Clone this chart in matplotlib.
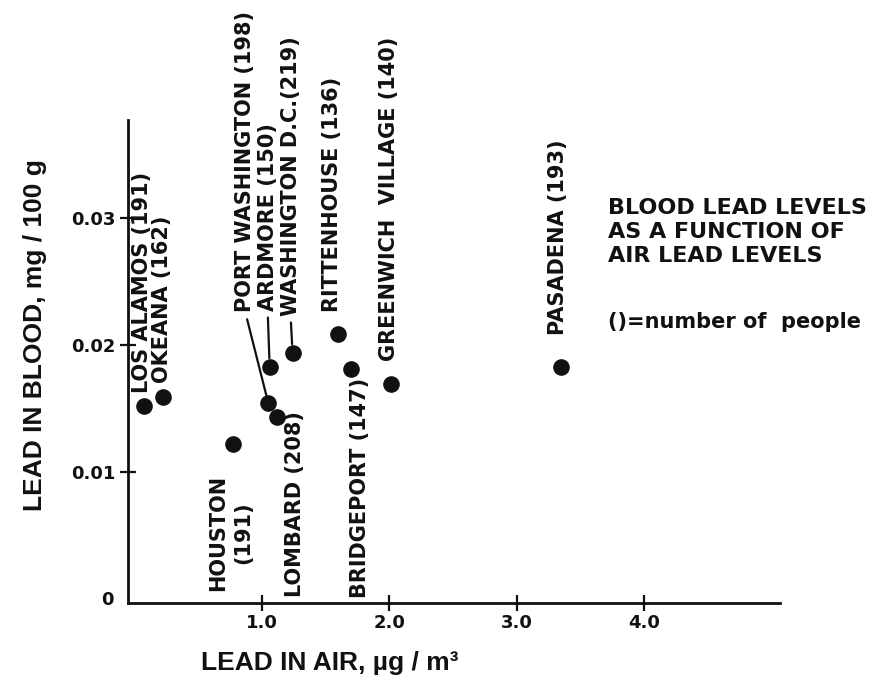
import numpy as np
import matplotlib.pyplot as plt

plt.rcParams['font.family'] = ['DejaVu Sans']
plt.rcParams['font.weight'] = 'bold'

# Données
towns = ['LOS ALAMOS (191)', 'OKEANA (162)', 'HOUSTON\n(191)', 'PORT WASHINGTON (198)',
         'ARDMORE (150)', 'LOMBARD (208)', 'WASHINGTON D.C.(219)', 'RITTENHOUSE (136)',
         'BRIDGEPORT (147)', 'GREENWICH  VILLAGE (140)', 'PASADENA (193)']
lead_air = [0.07, 0.22, 0.77, 1.05, 1.06, 1.12, 1.24, 1.60, 1.70, 2.01, 3.35]       # µg/m3
lead_blood = [0.0152, 0.0159, 0.0122, 0.0154, 0.0183, 0.0143, 0.0194, 0.0209,
              0.0181, 0.0169, 0.0183]                                                # mg/100 g
x_ticks = [1.0, 2.0, 3.0, 4.0]
x_ticklabels = ['1.0', '2.0', '3.0', '4.0']
y_ticks = [0.01, 0.02, 0.03]
y_ticklabels = ['0.01', '0.02', '0.03']

# placement des étiquettes (décalage en pixels, alignement, trait de rappel)
offsets = [(-2, 13), (-1, 14), (-2, -89), (-23, 91), (-2, 56), (18, 6),
           (-2, 37), (-6, 22), (9, -9), (-2, 23), (-3, 32)]
valign = ['bottom', 'bottom', 'center', 'bottom', 'bottom', 'top',
          'bottom', 'bottom', 'top', 'bottom', 'bottom']
leader = [False, False, False, True, True, False, True, False, False, False, False]

ink = '#111111'
fig = plt.figure(figsize=(8.72, 6.88), dpi=100)
ax = fig.add_axes([128/872, 85/688, 652/872, 483/688])

ax.scatter(lead_air, lead_blood, s=120, color=ink, zorder=3, clip_on=False)

for i in range(len(towns)):
    arrow = None
    if leader[i]:
        arrow = dict(arrowstyle='-', lw=1.6, color=ink, shrinkA=3, shrinkB=6, relpos=(0.5, 0))
    ax.annotate(towns[i], xy=(lead_air[i], lead_blood[i]), xytext=offsets[i],
                textcoords='offset pixels', rotation=90, ha='center', va=valign[i],
                multialignment='center', fontsize=15, color=ink, linespacing=1.3,
                arrowprops=arrow, annotation_clip=False)

ax.set_xlim(-0.053, 5.07)
ax.set_ylim(-0.0003, 0.0377)
ax.set_xticks(x_ticks)
ax.set_xticklabels(x_ticklabels)
ax.set_yticks(y_ticks)
ax.set_yticklabels(y_ticklabels)
ax.tick_params(direction='inout', length=12, width=1.6, colors=ink, labelsize=13)
ax.tick_params(axis='x', pad=2)
ax.tick_params(axis='y', pad=3)

for s in ['top', 'right']:
    ax.spines[s].set_visible(False)
for s in ['left', 'bottom']:
    ax.spines[s].set_linewidth(2)
    ax.spines[s].set_color(ink)

ax.annotate('0', xy=(0, 0), xycoords='axes fraction', xytext=(-21, 3),
            textcoords='offset pixels', ha='center', va='center', fontsize=13, color=ink)

fig.text(330/872, 1 - 663/688, 'LEAD IN AIR, µg / m³', ha='center', va='center',
         fontsize=19, color=ink, family='Liberation Sans')
fig.text(35/872, 1 - 335/688, 'LEAD IN BLOOD, mg / 100 g', ha='center', va='center',
         rotation=90, fontsize=19, color=ink, family='Liberation Sans')

fig.text(608/872, 1 - 198/688, 'BLOOD LEAD LEVELS\nAS A FUNCTION OF\nAIR LEAD LEVELS',
         ha='left', va='top', fontsize=16, color=ink, linespacing=1.25)
fig.text(608/872, 1 - 322/688, '()=number of  people', ha='left', va='center',
         fontsize=15, color=ink)

fig.savefig('out.png', dpi=100, facecolor='white')
